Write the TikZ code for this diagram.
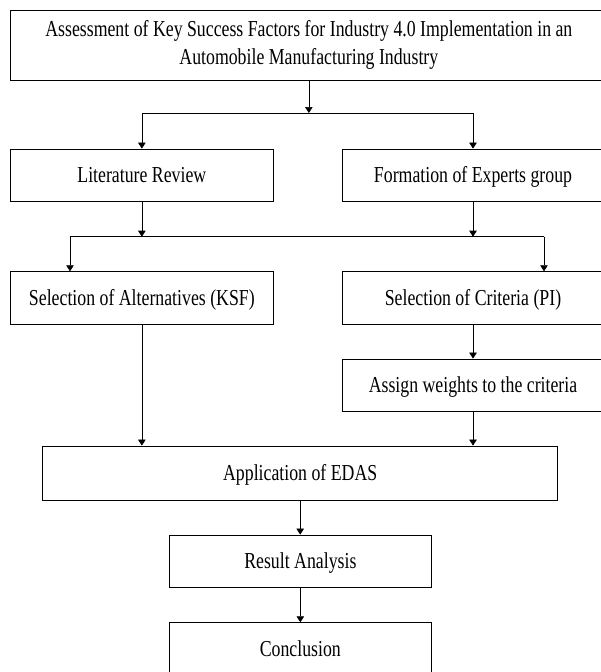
\documentclass[tikz,border=0pt]{standalone}
\usepackage{fontspec}
\setmainfont{Liberation Serif}[FakeStretch=0.78]
\usetikzlibrary{arrows.meta}
\begin{document}
\begin{tikzpicture}[x=1pt,y=-1pt,
  base/.style={draw=black,line width=0.8pt,rectangle,inner sep=0pt,
    font=\fontsize{22.8}{28}\selectfont},
  box/.style={base,align=center},
  one/.style={base,text height=15pt,text depth=0pt},
  arr/.style={-{Triangle[width=7.5pt,length=6pt]},line width=0.7pt},
  ln/.style={line width=0.7pt}]
\useasboundingbox (0,0) rectangle (601,672);
\clip (0,0) rectangle (601,672);
\node[box,minimum width=596.3pt,minimum height=70pt] (title) at (308.85,45)
  {Assessment of Key Success Factors for Industry 4.0 Implementation in an\\Automobile Manufacturing Industry};
\node[one,minimum width=262.3pt,minimum height=52pt] (lit) at (141.85,175) {Literature Review};
\node[one,minimum width=262pt,minimum height=52pt] (form) at (473,175) {Formation of Experts group};
\node[one,minimum width=262.3pt,minimum height=52.3pt] (selalt) at (141.85,297.85) {Selection of Alternatives (KSF)};
\node[one,minimum width=262pt,minimum height=52.3pt] (selcrit) at (473,297.85) {Selection of Criteria (PI)};
\node[one,minimum width=262pt,minimum height=52.7pt] (assign) at (473,385.35) {Assign weights to the criteria};
\node[one,minimum width=515pt,minimum height=54pt] (edas) at (300.2,473) {Application of EDAS};
\node[one,minimum width=262.7pt,minimum height=52pt] (result) at (300.35,561) {Result Analysis};
\node[one,minimum width=262.7pt,minimum height=52.3pt] (concl) at (300.35,648.85) {Conclusion};
% first split
\coordinate (s1) at (0,113);
\draw[arr] (title.south) -- (title.south |- s1);
\draw[ln] (lit.north |- s1) -- (form.north |- s1);
\draw[arr] (lit.north |- s1) -- (lit.north);
\draw[arr] (form.north |- s1) -- (form.north);
% second split
\coordinate (j1) at (70,236.7);
\coordinate (j2) at (544,236.7);
\draw[arr] (lit.south) -- (lit.south |- j1);
\draw[arr] (form.south) -- (form.south |- j1);
\draw[ln] (j1) -- (j2);
\draw[arr] (j1) -- (j1 |- selalt.north);
\draw[arr] (j2) -- (j2 |- selcrit.north);
% lower flow
\draw[arr] (selalt.south) -- (selalt.south |- edas.north);
\draw[arr] (selcrit.south) -- (assign.north);
\draw[arr] (assign.south) -- (assign.south |- edas.north);
\draw[arr] (edas.south) -- (edas.south |- result.north);
\draw[arr] (result.south) -- (concl.north);
\end{tikzpicture}
\end{document}
